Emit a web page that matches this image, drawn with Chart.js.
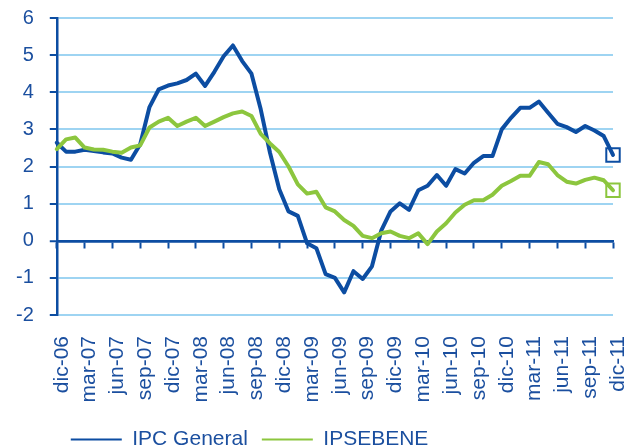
<!DOCTYPE html>
<html>
<head>
<meta charset="utf-8">
<script src="https://cdn.jsdelivr.net/npm/chart.js@4.4.1/dist/chart.umd.min.js"></script>
<style>
html,body{margin:0;padding:0;background:#ffffff;}
#wrap{width:625px;height:448px;position:relative;}
</style>
</head>
<body>
<div id="wrap"><canvas id="c" width="625" height="448"></canvas></div>
<script>
const categories = [
  'dic-06','ene-07','feb-07','mar-07','abr-07','may-07','jun-07','jul-07','ago-07','sep-07','oct-07','nov-07',
  'dic-07','ene-08','feb-08','mar-08','abr-08','may-08','jun-08','jul-08','ago-08','sep-08','oct-08','nov-08',
  'dic-08','ene-09','feb-09','mar-09','abr-09','may-09','jun-09','jul-09','ago-09','sep-09','oct-09','nov-09',
  'dic-09','ene-10','feb-10','mar-10','abr-10','may-10','jun-10','jul-10','ago-10','sep-10','oct-10','nov-10',
  'dic-10','ene-11','feb-11','mar-11','abr-11','may-11','jun-11','jul-11','ago-11','sep-11','oct-11','nov-11',
  'dic-11'
];
const ipcGeneral = [
  2.64, 2.40, 2.40, 2.45, 2.42, 2.38, 2.35, 2.24, 2.18, 2.60, 3.60, 4.08,
  4.18, 4.24, 4.33, 4.50, 4.17, 4.55, 4.97, 5.26, 4.84, 4.50, 3.54, 2.37,
  1.39, 0.79, 0.67, -0.07, -0.20, -0.90, -1.00, -1.39, -0.82, -1.03, -0.69, 0.27,
  0.79, 1.01, 0.83, 1.36, 1.48, 1.77, 1.48, 1.93, 1.81, 2.10, 2.28, 2.28,
  3.00, 3.31, 3.58, 3.58, 3.75, 3.45, 3.15, 3.06, 2.93, 3.09, 2.97, 2.82,
  2.31
];
const ipsebene = [
  2.47, 2.73, 2.78, 2.51, 2.46, 2.45, 2.40, 2.37, 2.51, 2.57, 3.05, 3.21,
  3.31, 3.09, 3.21, 3.31, 3.09, 3.21, 3.33, 3.43, 3.48, 3.36, 2.88, 2.62,
  2.39, 2.00, 1.52, 1.27, 1.32, 0.90, 0.79, 0.56, 0.40, 0.13, 0.07, 0.20,
  0.25, 0.13, 0.07, 0.20, -0.09, 0.25, 0.47, 0.76, 0.97, 1.09, 1.09, 1.24,
  1.48, 1.61, 1.75, 1.75, 2.12, 2.06, 1.77, 1.59, 1.54, 1.64, 1.70, 1.63,
  1.36
];
const seriesNames = ['IPC General', 'IPSEBENE'];
const labelEvery = 3;
const yMin = -2, yMax = 6, yStep = 1;

const BLUE = '#0c4da2';
const GREEN = '#8cc63e';
const TEXT = '#1b4f9f';
const GRID = '#9ed4f2';
const FONT = "'Liberation Sans', Arial, sans-serif";
const lastIndex = categories.length - 1;

const endMarker = (ctx) => ctx.dataIndex === lastIndex ? 9.5 : 0;

new Chart(document.getElementById('c'), {
  type: 'line',
  data: {
    labels: categories,
    datasets: [
      {
        label: seriesNames[0], data: ipcGeneral, order: 1,
        borderColor: BLUE, backgroundColor: BLUE, borderWidth: 4,
        tension: 0, borderJoinStyle: 'round', borderCapStyle: 'round',
        pointStyle: 'rect', pointRadius: endMarker, pointHoverRadius: endMarker,
        pointBackgroundColor: 'rgba(0,0,0,0)', pointBorderColor: BLUE, pointBorderWidth: 2,
        clip: false
      },
      {
        label: seriesNames[1], data: ipsebene, order: 0,
        borderColor: GREEN, backgroundColor: GREEN, borderWidth: 4,
        tension: 0, borderJoinStyle: 'round', borderCapStyle: 'round',
        pointStyle: 'rect', pointRadius: endMarker, pointHoverRadius: endMarker,
        pointBackgroundColor: 'rgba(0,0,0,0)', pointBorderColor: GREEN, pointBorderWidth: 2,
        clip: false
      }
    ]
  },
  options: {
    responsive: false,
    animation: false,
    devicePixelRatio: 1,
    layout: { padding: { left: 0, right: 12, top: 18, bottom: -12 } },
    plugins: {
      tooltip: { enabled: false },
      legend: {
        position: 'bottom',
        align: 'start',
        fullSize: false,
        labels: {
          boxWidth: 51, boxHeight: 2, padding: 14,
          color: TEXT, font: { family: FONT, size: 21 },
          generateLabels: (chart) => chart.data.datasets.map((ds, i) => ({
            text: ds.label, fillStyle: ds.borderColor, strokeStyle: ds.borderColor,
            lineWidth: 0, hidden: false, datasetIndex: i, fontColor: TEXT
          }))
        }
      }
    },
    scales: {
      x: {
        type: 'category', position: 'bottom', offset: false,
        grid: { display: false }, border: { display: false },
        ticks: {
          autoSkip: false, minRotation: 90, maxRotation: 90, padding: 13, labelOffset: 5,
          color: TEXT, font: { family: FONT, size: 21 },
          callback: (v, i) => (i % labelEvery === 0 ? categories[i] : '')
        },
        afterFit: (s) => { s.height = 100; s.paddingRight = 0; s.paddingLeft = 0; }
      },
      x0: {
        type: 'category', axis: 'x', position: { y: 0 }, offset: false,
        ticks: { display: false },
        grid: {
          display: true, drawOnChartArea: false, drawTicks: true, tickLength: 6, tickWidth: 2,
          color: BLUE,
          tickColor: (c) => (c.index % labelEvery === 0 ? BLUE : 'rgba(0,0,0,0)')
        },
        border: { display: true, color: BLUE, width: 2.5 }
      },
      y: {
        type: 'linear', position: 'left',
        min: yMin, max: yMax,
        ticks: { stepSize: yStep, color: TEXT, font: { family: FONT, size: 20 }, padding: 16 },
        grid: {
          display: true, drawOnChartArea: true,
          color: (c) => (c.tick && c.tick.value === 0 ? BLUE : GRID),
          lineWidth: (c) => (c.tick && c.tick.value === 0 ? 2.5 : 2),
          drawTicks: true, tickLength: 7, tickWidth: 2, tickColor: BLUE
        },
        border: { display: true, color: BLUE, width: 2.5 },
        afterFit: (s) => { s.paddingTop = 0; }
      }
    }
  }
});
</script>
</body>
</html>
